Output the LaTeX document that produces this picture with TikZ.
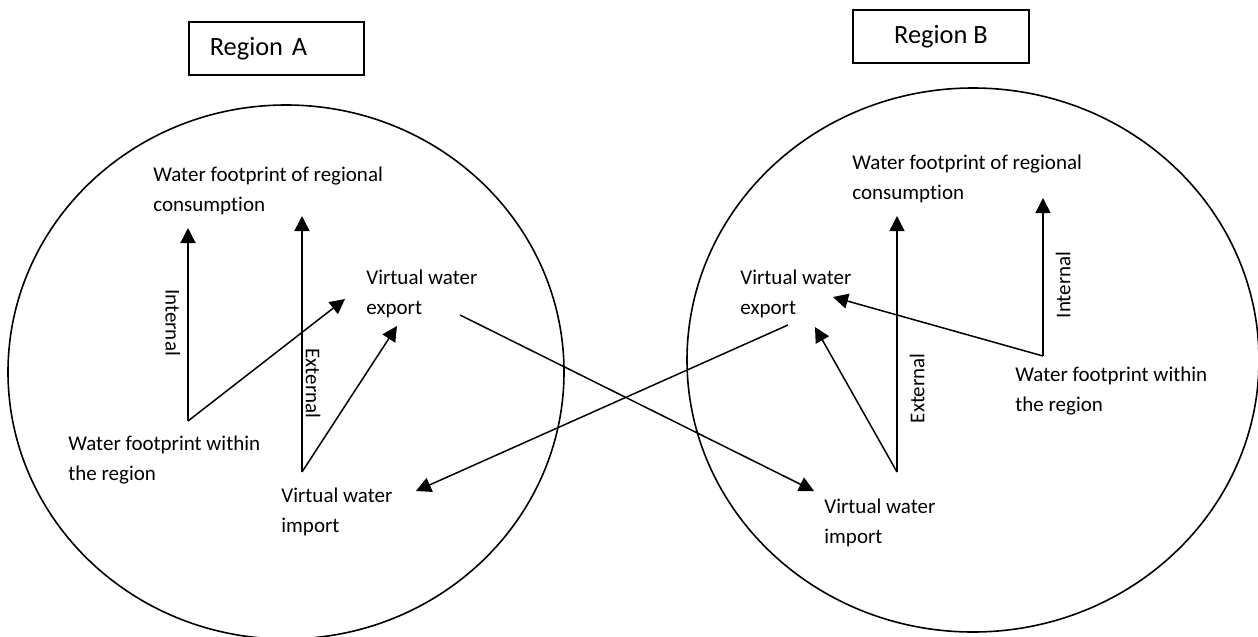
\documentclass[tikz,border=0pt]{standalone}
\usepackage{fontspec}
\setmainfont{Carlito}[Ligatures=NoCommon]
\usetikzlibrary{arrows.meta}

\begin{document}
\begin{tikzpicture}[x=0.5pt, y=-0.5pt, >={Triangle[length=7.5pt,width=7.5pt]},
    flow/.style={->, line width=0.75pt},
    txt/.style={anchor=base west, align=left, inner sep=0pt, font=\fontsize{10.5}{15}\selectfont},
    tag/.style={font=\fontsize{10.5}{15}\selectfont},
    regionbox/.style={draw, line width=0.8pt, minimum height=26.5pt, font=\fontsize{13.2}{16}\selectfont}]
    \useasboundingbox (0,0) rectangle (1258,637);

    % Regions
    \draw[line width=0.8pt] (286,372) ellipse [x radius=278, y radius=267];
    \draw[line width=0.8pt] (973,360) ellipse [x radius=286, y radius=272];
    \node[regionbox, anchor=west, inner xsep=10.5pt, text width=66.5pt] (boxA) at (188,48.5) {Region A};
    \node[regionbox, minimum width=88pt] (boxB) at (941,36.5) {Region B};

    % Texts, region A (base = last line)
    \node[txt] (consA) at (153,211) {Water footprint of regional\\consumption};
    \node[txt] (expA) at (366,314) {Virtual water\\export};
    \node[txt] (withinA) at (68,480) {Water footprint within\\the region};
    \node[txt] (impA) at (281,532) {Virtual water\\import};

    % Texts, region B
    \node[txt] (consB) at (852,199) {Water footprint of regional\\consumption};
    \node[txt] (expB) at (740,314) {Virtual water\\export};
    \node[txt] (withinB) at (1015,411) {Water footprint within\\the region};
    \node[txt] (impB) at (824,543) {Virtual water\\import};

    % Points
    \coordinate (WA) at (188,421);
    \coordinate (XA) at (302,472);
    \coordinate (IntTipA) at (188,228);
    \coordinate (ExtTipA) at (302,216);
    \coordinate (ExpTipA1) at (345,299);
    \coordinate (ExpTipA2) at (397,326);
    \coordinate (ExpOutA) at (460,315);
    \coordinate (ImpTipA) at (416,491);

    \coordinate (WB) at (1043,356);
    \coordinate (XB) at (897,472);
    \coordinate (IntTipB) at (1043,198);
    \coordinate (ExtTipB) at (897,216);
    \coordinate (ExpTipB1) at (833,297);
    \coordinate (ExpTipB2) at (815,327);
    \coordinate (ExpOutB) at (788,325);
    \coordinate (ImpTipB) at (814,491);

    % Flows in region A
    \draw[flow] (WA) -- (IntTipA) node[tag, pos=0.51, rotate=-90, anchor=north, inner sep=3.5pt] (intA) {Internal};
    \draw[flow] (WA) -- (ExpTipA1);
    \draw[flow] (XA) -- (ExtTipA) node[tag, pos=0.346, rotate=-90, anchor=south, inner sep=1.5pt] (extA) {External};
    \draw[flow] (XA) -- (ExpTipA2);

    % Flows in region B
    \draw[flow] (WB) -- (IntTipB) node[tag, pos=0.45, rotate=90, anchor=north, inner sep=6pt] (intB) {Internal};
    \draw[flow] (WB) -- (ExpTipB1);
    \draw[flow] (XB) -- (ExtTipB) node[tag, pos=0.327, rotate=90, anchor=north, inner sep=6pt] (extB) {External};
    \draw[flow] (XB) -- (ExpTipB2);

    % Trade between regions
    \draw[flow] (ExpOutA) -- (ImpTipB);
    \draw[flow] (ExpOutB) -- (ImpTipA);
\end{tikzpicture}
\end{document}
